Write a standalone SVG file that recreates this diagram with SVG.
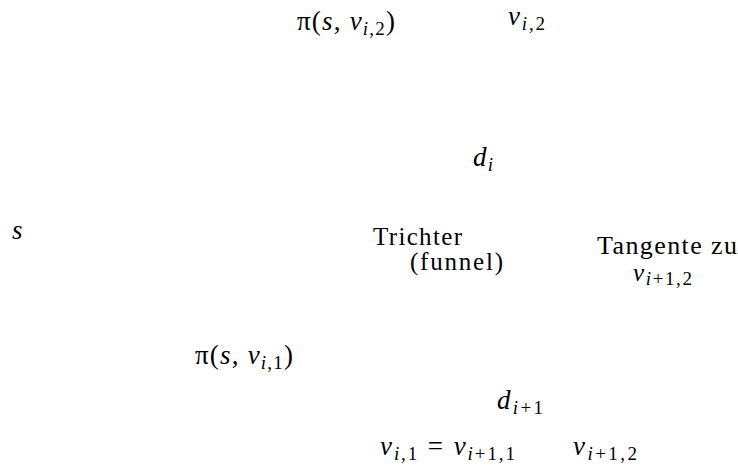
<svg xmlns="http://www.w3.org/2000/svg" width="738" height="467" viewBox="0 0 738 467">
<style>
text{font-family:"Liberation Serif","DejaVu Serif",serif;font-size:27px;fill:#000}
.i{font-style:italic}
.s{font-size:19px}
.w{font-size:25px}
.t{font-size:26px}
.m{font-size:25px}
</style>
<rect width="738" height="467" fill="#fff"/>
<g id="pi2"><text x="297" y="30" textLength="98">π(<tspan class="i">s</tspan>, <tspan class="i">v</tspan><tspan class="s i" dy="5">i</tspan><tspan class="s">,2</tspan><tspan dy="-5">)</tspan></text></g>
<g id="vi2"><text x="508" y="25" textLength="37"><tspan class="i">v</tspan><tspan class="s i" dy="5">i</tspan><tspan class="s">,2</tspan></text></g>
<g id="di"><text x="473" y="166" textLength="20"><tspan class="i">d</tspan><tspan class="s i" dy="5">i</tspan></text></g>
<g id="s"><text x="12" y="239" class="i">s</text></g>
<g id="funnel"><text x="373" y="245" class="w" textLength="89">Trichter</text><text x="410" y="270" class="w" textLength="93">(funnel)</text></g>
<g id="tangente"><text x="597" y="254" class="t" textLength="140">Tangente zu</text><text x="633" y="281" class="m" textLength="59"><tspan class="i">v</tspan><tspan class="s i" dy="4">i</tspan><tspan class="s">+1,2</tspan></text></g>
<g id="pi1"><text x="195" y="364" textLength="98">π(<tspan class="i">s</tspan>, <tspan class="i">v</tspan><tspan class="s i" dy="5">i</tspan><tspan class="s">,1</tspan><tspan dy="-5">)</tspan></text></g>
<g id="di1"><text x="497" y="409" textLength="46"><tspan class="i">d</tspan><tspan class="s i" dy="5">i</tspan><tspan class="s">+1</tspan></text></g>
<g id="vi1"><text x="380" y="455" textLength="135"><tspan class="i">v</tspan><tspan class="s i" dy="5">i</tspan><tspan class="s">,1</tspan><tspan dy="-5"> = </tspan><tspan class="i">v</tspan><tspan class="s i" dy="5">i</tspan><tspan class="s">+1,1</tspan></text></g>
<g id="vi12"><text x="573" y="455" textLength="64"><tspan class="i">v</tspan><tspan class="s i" dy="5">i</tspan><tspan class="s">+1,2</tspan></text></g>
<g id="connectors"></g>
</svg>
